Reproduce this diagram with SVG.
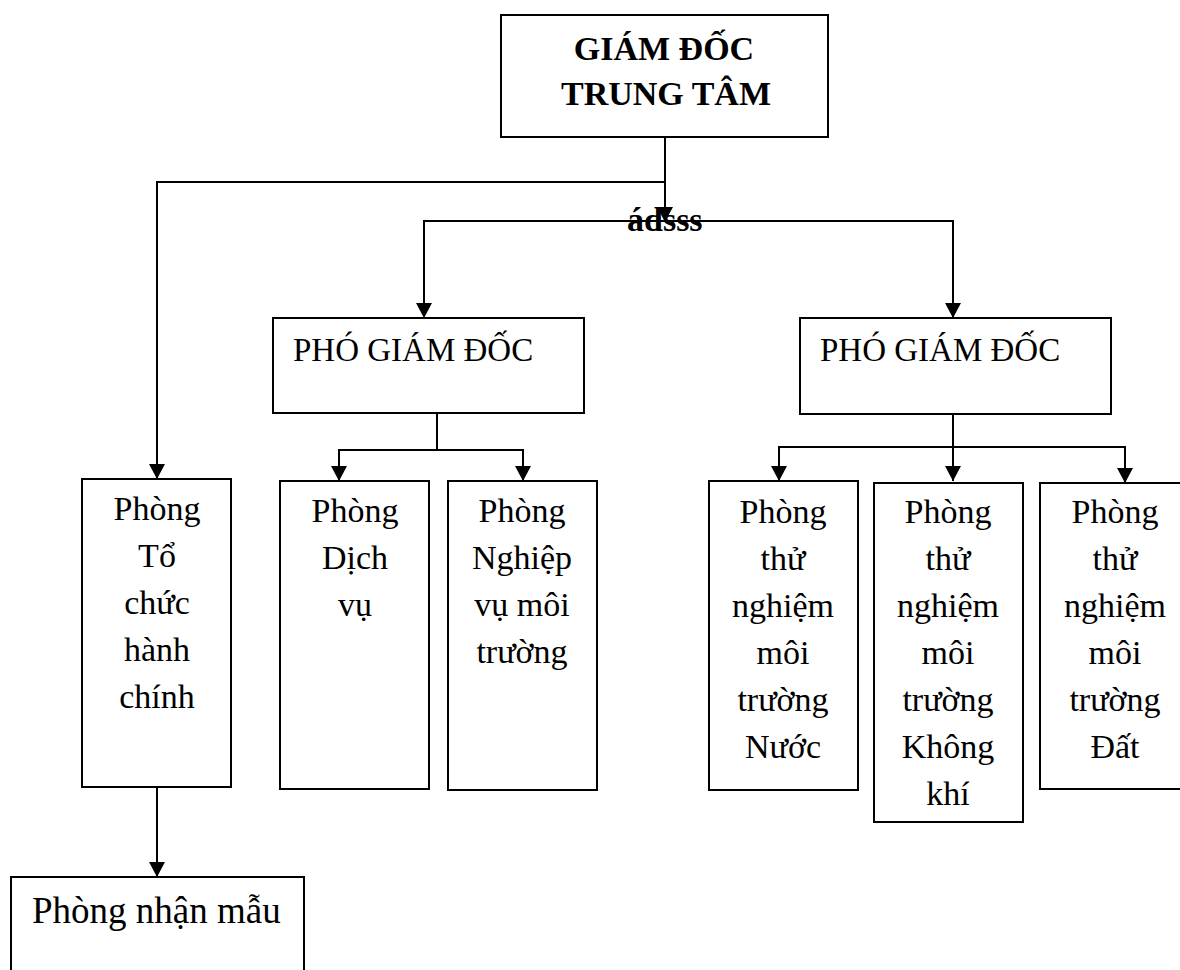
<svg xmlns="http://www.w3.org/2000/svg" width="1180" height="970" viewBox="0 0 1180 970">
<style>
.box{fill:#fff;stroke:#000;stroke-width:2}
.ln{fill:none;stroke:#000;stroke-width:2}
.t{font-family:"Liberation Serif","Times New Roman",serif;font-size:34px;fill:#000}
.c{text-anchor:middle}
.b{font-weight:bold}
</style>
<defs>
<marker id="ah" markerUnits="userSpaceOnUse" markerWidth="16" markerHeight="16" viewBox="0 0 16 16" refX="15" refY="8" orient="auto">
<path d="M0,0 L15,8 L0,16 Z" fill="#000"/>
</marker>
</defs>
<rect width="1180" height="970" fill="#fff"/>
<g id="connectors">
<line class="ln" x1="157" y1="182" x2="665" y2="182"/>
<line class="ln" x1="157" y1="181" x2="157" y2="479" marker-end="url(#ah)"/>
<line class="ln" x1="665" y1="137" x2="665" y2="222" marker-end="url(#ah)"/>
<line class="ln" x1="424" y1="221" x2="954" y2="221"/>
<line class="ln" x1="424" y1="220" x2="424" y2="318" marker-end="url(#ah)"/>
<line class="ln" x1="953" y1="220" x2="953" y2="318" marker-end="url(#ah)"/>
<line class="ln" x1="437" y1="413" x2="437" y2="450"/>
<line class="ln" x1="339" y1="450" x2="523" y2="450"/>
<line class="ln" x1="339" y1="449" x2="339" y2="481" marker-end="url(#ah)"/>
<line class="ln" x1="523" y1="449" x2="523" y2="481" marker-end="url(#ah)"/>
<line class="ln" x1="953" y1="414" x2="953" y2="481" marker-end="url(#ah)"/>
<line class="ln" x1="779" y1="447" x2="1125" y2="447"/>
<line class="ln" x1="779" y1="446" x2="779" y2="481" marker-end="url(#ah)"/>
<line class="ln" x1="1125" y1="446" x2="1125" y2="483" marker-end="url(#ah)"/>
<line class="ln" x1="157" y1="787" x2="157" y2="877" marker-end="url(#ah)"/>
</g>
<g id="giam-doc">
<rect class="box" x="501" y="15" width="327" height="122"/>
<text class="t b c" x="664" y="60">GIÁM ĐỐC</text>
<text class="t b c" x="666" y="105">TRUNG TÂM</text>
</g>
<g id="label-adsss">
<text class="t b" x="627" y="231">ádsss</text>
</g>
<g id="pho-giam-doc-1">
<rect class="box" x="273" y="318" width="311" height="95"/>
<text class="t" x="293" y="361" style="font-size:33px">PHÓ GIÁM ĐỐC</text>
</g>
<g id="pho-giam-doc-2">
<rect class="box" x="800" y="318" width="311" height="96"/>
<text class="t" x="820" y="361" style="font-size:33px">PHÓ GIÁM ĐỐC</text>
</g>
<g id="phong-to-chuc">
<rect class="box" x="82" y="479" width="149" height="308"/>
<text class="t c" x="157" y="520">Phòng</text>
<text class="t c" x="157" y="567">Tổ</text>
<text class="t c" x="157" y="614">chức</text>
<text class="t c" x="157" y="661">hành</text>
<text class="t c" x="157" y="708">chính</text>
</g>
<g id="phong-dich-vu">
<rect class="box" x="280" y="481" width="149" height="308"/>
<text class="t c" x="355" y="522">Phòng</text>
<text class="t c" x="355" y="569">Dịch</text>
<text class="t c" x="355" y="616">vụ</text>
</g>
<g id="phong-nghiep-vu">
<rect class="box" x="448" y="481" width="149" height="309"/>
<text class="t c" x="522" y="522">Phòng</text>
<text class="t c" x="522" y="569">Nghiệp</text>
<text class="t c" x="522" y="616">vụ môi</text>
<text class="t c" x="522" y="663">trường</text>
</g>
<g id="phong-nuoc">
<rect class="box" x="709" y="481" width="149" height="309"/>
<text class="t c" x="783" y="523">Phòng</text>
<text class="t c" x="783" y="570">thử</text>
<text class="t c" x="783" y="617">nghiệm</text>
<text class="t c" x="783" y="664">môi</text>
<text class="t c" x="783" y="711">trường</text>
<text class="t c" x="783" y="758">Nước</text>
</g>
<g id="phong-khong-khi">
<rect class="box" x="874" y="483" width="149" height="339"/>
<text class="t c" x="948" y="523">Phòng</text>
<text class="t c" x="948" y="570">thử</text>
<text class="t c" x="948" y="617">nghiệm</text>
<text class="t c" x="948" y="664">môi</text>
<text class="t c" x="948" y="711">trường</text>
<text class="t c" x="948" y="758">Không</text>
<text class="t c" x="948" y="805">khí</text>
</g>
<g id="phong-dat">
<rect class="box" x="1040" y="483" width="149" height="306"/>
<text class="t c" x="1115" y="523">Phòng</text>
<text class="t c" x="1115" y="570">thử</text>
<text class="t c" x="1115" y="617">nghiệm</text>
<text class="t c" x="1115" y="664">môi</text>
<text class="t c" x="1115" y="711">trường</text>
<text class="t c" x="1115" y="758">Đất</text>
</g>
<g id="phong-nhan-mau">
<rect class="box" x="11" y="877" width="293" height="130"/>
<text class="t" x="32" y="923" style="font-size:37px">Phòng nhận mẫu</text>
</g>
</svg>
